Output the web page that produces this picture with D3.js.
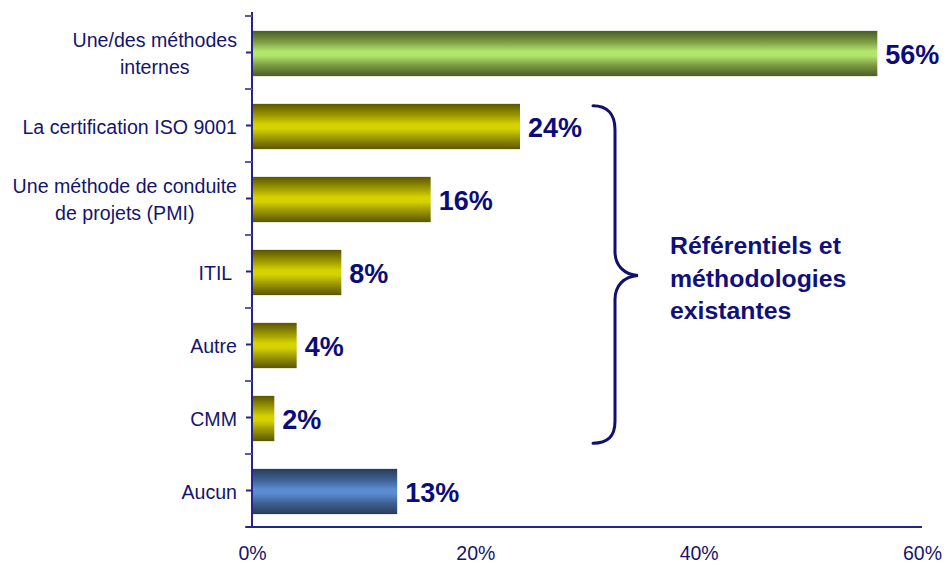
<!DOCTYPE html>
<html>
<head>
<meta charset="utf-8">
<script src="https://cdn.jsdelivr.net/npm/d3@7"></script>
<style>
  html, body { margin: 0; padding: 0; background: #fff; }
  svg { display: block; font-family: Arial, "Liberation Sans", sans-serif; }
</style>
</head>
<body>
<svg id="chart" width="946" height="566"></svg>
<script>
// Survey answers: which frameworks / methods are used
const categories = [
  "Une/des méthodes\ninternes",
  "La certification ISO 9001",
  "Une méthode de conduite\nde projets (PMI)",
  "ITIL ",
  "Autre",
  "CMM",
  "Aucun"
];
const values = [56, 24, 16, 8, 4, 2, 13];
const groups = ["interne", "ref", "ref", "ref", "ref", "ref", "aucun"];
const xTicks = [0, 20, 40, 60];
const braceLines = ["Référentiels et", "méthodologies", "existantes"];

const svg = d3.select("#chart");
const navy = "#14146e";
const axisColor = "#24248a";

const x0 = 252, x1 = 922, yTop = 16, yBottom = 527;
const x = d3.scaleLinear().domain([0, 60]).range([x0, x1]);
const y = d3.scaleBand().domain(categories).range([yTop, yBottom])
  .paddingInner(0.38).paddingOuter(0.19);
const step = y.step();

// Gradients: dark edges, light centre band
const defs = svg.append("defs");
const palettes = {
  interne: ["#4a5c26", "#7e9e44", "#b0e66c"],
  ref:     ["#5a5600", "#9c9800", "#d6d200"],
  aucun:   ["#283c5a", "#3e6294", "#5a8cd2"]
};
Object.entries(palettes).forEach(([key, c]) => {
  const g = defs.append("linearGradient").attr("id", "grad-" + key)
    .attr("x1", 0).attr("y1", 0).attr("x2", 0).attr("y2", 1);
  [[0, c[0]], [0.25, c[1]], [0.45, c[2]], [0.55, c[2]], [0.75, c[1]], [1, c[0]]]
    .forEach(([o, col]) => g.append("stop").attr("offset", o).attr("stop-color", col));
});

// Bars
svg.append("g").selectAll("rect").data(categories).join("rect")
  .attr("x", x(0) + 1)
  .attr("y", d => y(d) + 1)
  .attr("width", (d, i) => x(values[i]) - x(0) - 1)
  .attr("height", y.bandwidth())
  .attr("fill", (d, i) => `url(#grad-${groups[i]})`);

// Value labels
svg.append("g").selectAll("text").data(categories).join("text")
  .attr("x", (d, i) => x(values[i]) + 8)
  .attr("y", d => y(d) + 1 + y.bandwidth() / 2 + 10)
  .attr("font-size", 27).attr("font-weight", "bold").attr("fill", "#0c0c78")
  .text((d, i) => values[i] + "%");

// Y axis line and ticks
const axisG = svg.append("g");
axisG.append("line").attr("x1", x0).attr("x2", x0).attr("y1", 12).attr("y2", yBottom)
  .attr("stroke", axisColor).attr("stroke-width", 2);
const boundaries = categories.map(c => y(c) - step * y.paddingInner() / 2).concat([yBottom]);
axisG.selectAll(".bt").data(boundaries).join("line")
  .attr("x1", x0 - 7).attr("x2", x0).attr("y1", d => d).attr("y2", d => d)
  .attr("stroke", "#5a5aa8").attr("stroke-width", 2);
axisG.selectAll(".ct").data(categories).join("line")
  .attr("x1", x0 - 6).attr("x2", x0)
  .attr("y1", d => y(d) + y.bandwidth() / 2).attr("y2", d => y(d) + y.bandwidth() / 2)
  .attr("stroke", axisColor).attr("stroke-width", 2);

// X axis
const xAxis = svg.append("g").attr("transform", `translate(0,${yBottom})`)
  .call(d3.axisBottom(x).tickValues(xTicks).tickSize(0).tickPadding(0).tickFormat(d => d + "%"));
xAxis.select(".domain").remove();
xAxis.selectAll("text").attr("y", 33).attr("dy", 0)
  .attr("font-size", 19.5).attr("font-family", "Arial, 'Liberation Sans', sans-serif")
  .attr("fill", navy);
svg.append("line").attr("x1", x0 - 6).attr("x2", x1).attr("y1", yBottom).attr("y2", yBottom)
  .attr("stroke", axisColor).attr("stroke-width", 2);

// Category labels (multi-line, centred block ending at the right edge)
const labelRight = 237, lineH = 27;
const labels = svg.append("g");
categories.forEach(c => {
  const lines = c.split("\n");
  const cy = y(c) + 1 + y.bandwidth() / 2;
  const t = labels.append("text")
    .attr("font-size", 19.6).attr("fill", navy)
    .style("white-space", "pre").attr("text-anchor", "middle");
  lines.forEach((ln, i) => {
    t.append("tspan").attr("y", cy + 7 + (i - (lines.length - 1) / 2) * lineH).text(ln);
  });
  let w = 0;
  t.selectAll("tspan").each(function () { w = Math.max(w, this.getComputedTextLength()); });
  t.selectAll("tspan").attr("x", labelRight - w / 2);
});

// Brace grouping the existing frameworks
const refCats = categories.filter((c, i) => groups[i] === "ref");
const bTop = y(refCats[0]) + 3, bBot = y(refCats[refCats.length - 1]) + y.bandwidth() + 3;
const bMid = (bTop + bBot) / 2 + 1;
const bx = 593, bs = 615, bp = 638;
svg.append("path")
  .attr("d", `M${bx},${bTop} C${bx + 14},${bTop} ${bs},${bTop + 8} ${bs},${bTop + 24}
    L${bs},${bMid - 24} C${bs},${bMid - 10} ${bs + 9},${bMid - 1} ${bp},${bMid}
    C${bs + 9},${bMid + 1} ${bs},${bMid + 10} ${bs},${bMid + 24}
    L${bs},${bBot - 22} C${bs},${bBot - 6} ${bx + 14},${bBot} ${bx},${bBot}`)
  .attr("fill", "none").attr("stroke", "#10106e").attr("stroke-width", 3)
  .attr("stroke-linecap", "round");

svg.append("g").selectAll("text").data(braceLines).join("text")
  .attr("x", 670).attr("y", (d, i) => 254 + i * 32.5)
  .attr("font-size", 24.8).attr("font-weight", "bold").attr("fill", "#10107a")
  .text(d => d);
</script>
</body>
</html>
